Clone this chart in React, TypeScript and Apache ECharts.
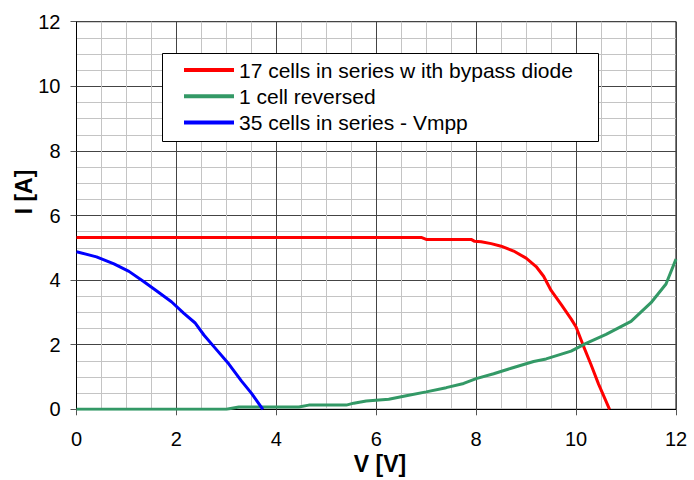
import React, { useEffect, useRef } from "react";
import * as echarts from "echarts";

const seriesNames = [
  "17 cells in series w ith bypass diode",
  "1 cell reversed",
  "35 cells in series - Vmpp",
];
const seriesColors = ["#ff0000", "#339966", "#0000ff"];

const redCurve: [number, number][] = [
  [0, 5.32], [6.9, 5.32], [7.0, 5.26], [7.9, 5.26], [7.97, 5.2], [8.1, 5.19],
  [8.3, 5.13], [8.5, 5.05], [8.75, 4.9], [9.0, 4.68], [9.2, 4.42], [9.35, 4.12],
  [9.5, 3.68], [9.7, 3.25], [9.9, 2.8], [10.0, 2.55], [10.15, 1.95], [10.3, 1.38],
  [10.45, 0.78], [10.67, 0.0],
];
const greenCurve: [number, number][] = [
  [0, 0], [3.0, 0], [3.25, 0.07], [4.45, 0.07], [4.65, 0.13], [5.4, 0.13],
  [5.55, 0.19], [5.8, 0.26], [6.25, 0.31], [6.6, 0.42], [7.0, 0.54], [7.4, 0.67],
  [7.75, 0.8], [8.0, 0.95], [8.35, 1.1], [8.7, 1.27], [9.15, 1.48], [9.4, 1.56],
  [9.9, 1.8], [10.2, 2.04], [10.6, 2.32], [11.1, 2.72], [11.5, 3.3], [11.8, 3.88],
  [12, 4.65],
];
const blueCurve: [number, number][] = [
  [0, 4.88], [0.4, 4.72], [0.75, 4.5], [1.05, 4.27], [1.35, 3.95], [1.6, 3.67],
  [1.9, 3.33], [2.15, 2.97], [2.37, 2.68], [2.55, 2.3], [2.75, 1.94], [3.05, 1.4],
  [3.3, 0.88], [3.5, 0.5], [3.73, 0],
];
const curves = [redCurve, greenCurve, blueCurve];

const xTitle = "V [V]";
const yTitle = "I [A]";

const FONT = '"Liberation Sans", Arial, sans-serif';

export default function App() {
  const ref = useRef<HTMLDivElement>(null);
  useEffect(() => {
    if (!ref.current) return;
    const chart = echarts.init(ref.current, undefined, { renderer: "svg" });
    const axisCommon = {
      type: "value" as const,
      min: 0,
      max: 12,
      interval: 2,
      axisLine: { show: true, lineStyle: { color: "#000", width: 1 } },
      axisTick: { show: true, length: 6, lineStyle: { color: "#555" } },
      splitLine: { show: true, lineStyle: { color: "#444", width: 1 } },
      minorTick: { show: false, splitNumber: 4 },
      minorSplitLine: { show: true, lineStyle: { color: "#c4c4c4", width: 1 } },
    };
    chart.setOption({
      animation: false,
      backgroundColor: "#fff",
      grid: {
        left: 76.5,
        right: 18,
        top: 21.7,
        bottom: 70.7,
        show: true,
        borderColor: "#000",
        borderWidth: 1,
      },
      xAxis: {
        ...axisCommon,
        axisLabel: { fontSize: 20, color: "#000", fontFamily: FONT, margin: 20 },
      },
      yAxis: {
        ...axisCommon,
        axisLabel: { fontSize: 20, color: "#000", fontFamily: FONT, margin: 16 },
      },
      legend: {
        orient: "vertical",
        left: 184,
        top: 59.5,
        padding: 0,
        itemWidth: 50,
        itemHeight: 4,
        itemGap: 5.3,
        icon: "rect",
        z: 5,
        data: seriesNames,
        textStyle: { fontSize: 21, lineHeight: 21, color: "#000", fontFamily: FONT },
      },
      graphic: [
        {
          type: "rect",
          z: 4,
          shape: { x: 162.5, y: 53.5, width: 436, height: 88 },
          style: { fill: "#fff", stroke: "#000", lineWidth: 1 },
        },
        {
          type: "text",
          x: 24,
          y: 192,
          rotation: Math.PI / 2,
          style: {
            text: yTitle,
            fontSize: 23,
            fontWeight: "bold",
            fontFamily: FONT,
            fill: "#000",
            textAlign: "center",
            textVerticalAlign: "middle",
          },
        },
        {
          type: "text",
          x: 380,
          y: 464,
          style: {
            text: xTitle,
            fontSize: 23,
            fontWeight: "bold",
            fontFamily: FONT,
            fill: "#000",
            textAlign: "center",
            textVerticalAlign: "middle",
          },
        },
      ],
      series: seriesNames.map((name, i) => ({
        name,
        type: "line",
        data: curves[i],
        showSymbol: false,
        symbol: "none",
        color: seriesColors[i],
        lineStyle: { color: seriesColors[i], width: 3 },
        z: 3,
      })),
    });
    return () => chart.dispose();
  }, []);
  return (
    <div
      ref={ref}
      style={{ position: "fixed", left: 0, top: 0, width: 694, height: 480 }}
    />
  );
}
